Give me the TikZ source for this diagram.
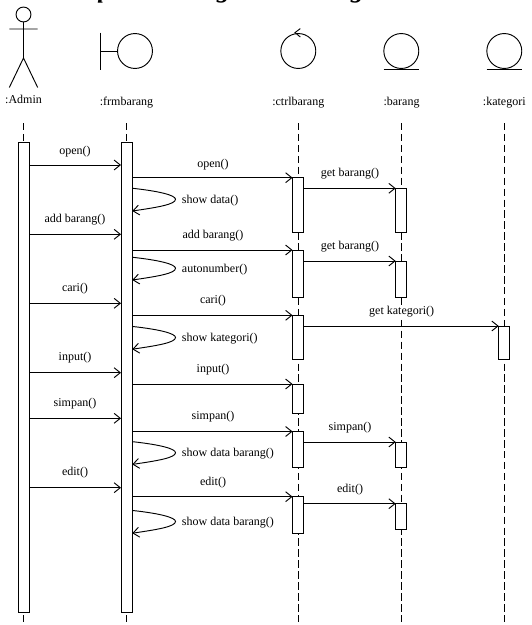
\documentclass[tikz,border=0pt]{standalone}
\usepackage{fontspec}
\setmainfont{Liberation Serif}
\usetikzlibrary{arrows.meta}
\tikzset{
  x=0.75pt, y=-0.75pt,
  thin line/.style={line width=0.7pt, black},
  lifeline/.style={thin line, dash pattern=on 5.6pt off 2.6pt},
  msg/.style={thin line, -{Straight Barb[length=4.6pt,width=7.4pt,line width=0.7pt]}},
  lbl/.style={font=\fontsize{9}{10}\selectfont, inner sep=0pt, fill=white, text height=7.2pt, text depth=1.9pt},
  actbox/.style={draw=black, line width=0.75pt, fill=white, inner sep=0pt, outer sep=0pt},
  icon/.style={draw=black, line width=0.7pt, circle, inner sep=0pt, outer sep=0pt, minimum size=26.2pt}
}
\newcommand{\actbar}[4]{\node[actbox, minimum width=8.25pt, minimum height={(#4-#3)*0.75pt}] (#1) at ({#2},{(#3+#4)/2}) {};}
% \sendmsg{from}{to}{y}{label}{label x}{label y}
\newcommand{\sendmsg}[6]{%
  \draw[msg] ([xshift=0.6pt]#1.east |- 0,#3) -- (#2.west |- 0,#3);
  \node[lbl] at (#5,#6) {#4};}
% \selfmsg{bar}{y}{name}{label}{label y}
\newcommand{\selfmsg}[5]{%
  \coordinate (#3a) at ([xshift=0.6pt]#1.east |- 0,#2);
  \coordinate (#3b) at ([xshift=0.2pt]#1.east |- 0,{#2+22.7});
  \draw[msg] (#3a) .. controls (160,{#2+3}) and (175.5,{#2+7}) .. (175.5,{#2+11})
     .. controls (175.5,{#2+16}) and (158,{#2+19}) .. (#3b);
  \node[lbl, anchor=west] at (181.7,#5) {#4};}
\begin{document}
\begin{tikzpicture}
\useasboundingbox (0,0) rectangle (532,625);
\begin{scope}
\clip (0,0) rectangle (532,625);
\node[font=\fontsize{20}{22}\selectfont\bfseries\itshape, inner sep=0pt, anchor=base west] (title) at (65,-2.5) {Sequence Diagram Barang};
\end{scope}

% actor
\node[icon, minimum size=11.2pt] (head) at (23.5,14.5) {};
\coordinate (hip) at (23.5,58);
\coordinate (armL) at (9.3,29);
\coordinate (armR) at (37.7,29);
\coordinate (footL) at (9.3,87.5);
\coordinate (footR) at (37.7,87.5);
\draw[thin line] (head.south) -- (hip) (armL) -- (armR) (footL) -- (hip) -- (footR);
\node[lbl] (admin) at (23.5,100) {:Admin};

% boundary
\node[icon] (bcirc) at (135,51) {};
\coordinate (bt) at (100.7,32.5);
\coordinate (bb) at (100.7,69.5);
\coordinate (bm) at (100.7,51);
\draw[thin line] (bt) -- (bb) (bm) -- (bcirc.west);
\node[lbl] (frm) at (126.5,101.5) {:frmbarang};

% control
\node[icon] (ccirc) at (298.3,51) {};
\coordinate (cA) at (300.3,28.6);
\coordinate (cB) at (300.3,37);
\draw[thin line] (cA) -- (295,32.6) -- (cB);
\node[lbl] (ctrl) at (298.3,101.5) {:ctrlbarang};

% entities
\node[icon] (ecirc1) at (401.3,51) {};
\coordinate (e1L) at (383.7,69);
\coordinate (e1R) at (419,69);
\draw[thin line] (e1L) -- (e1R);
\node[lbl] (barang) at (401.5,101.5) {:barang};
\node[icon] (ecirc2) at (504.3,51) {};
\coordinate (e2L) at (486.7,69);
\coordinate (e2R) at (522,69);
\draw[thin line] (e2L) -- (e2R);
\node[lbl] (kategori) at (504.3,101.5) {:kategori};

% lifelines
\foreach \n/\x in {a/23.5,b/126.5,c/298.3,d/401.2,e/504.3}{
  \coordinate (\n top) at (\x,123);
  \coordinate (\n bot) at (\x,625);
  \draw[lifeline] (\n top) -- (\n bot);
}

% activation bars
\actbar{adm}{23.5}{142}{612}
\actbar{frmb}{126.5}{142}{612}
\actbar{c1}{298}{177.7}{232}
\actbar{c2}{298}{250}{297}
\actbar{c3}{298}{315.3}{359}
\actbar{c4}{298}{384}{413.3}
\actbar{c5}{298}{431.3}{467.7}
\actbar{c6}{298}{496.5}{533}
\actbar{d1}{401.2}{188.3}{232}
\actbar{d2}{401.2}{261}{297}
\actbar{d3}{401.2}{442}{467.7}
\actbar{d4}{401.2}{503.7}{529.3}
\actbar{e1}{504.2}{326}{359}

% admin -> form
\sendmsg{adm}{frmb}{165}{open()}{75}{150.5}
\sendmsg{adm}{frmb}{234.3}{add barang()}{75}{219}
\sendmsg{adm}{frmb}{303.3}{cari()}{75}{288}
\sendmsg{adm}{frmb}{372.7}{input()}{75}{357}
\sendmsg{adm}{frmb}{418.3}{simpan()}{75}{403}
\sendmsg{adm}{frmb}{487.7}{edit()}{75}{472}

% form -> control
\sendmsg{frmb}{c1}{177.7}{open()}{213}{163.5}
\sendmsg{frmb}{c2}{250}{add barang()}{213}{235}
\sendmsg{frmb}{c3}{315.3}{cari()}{213}{300}
\sendmsg{frmb}{c4}{384}{input()}{213}{369}
\sendmsg{frmb}{c5}{431.5}{simpan()}{213}{416}
\sendmsg{frmb}{c6}{496.7}{edit()}{213}{482}

% self messages
\selfmsg{frmb}{188.3}{s1}{show data()}{200}
\selfmsg{frmb}{257.3}{s2}{autonumber()}{269}
\selfmsg{frmb}{326.5}{s3}{show kategori()}{338}
\selfmsg{frmb}{441.7}{s4}{show data barang()}{453}
\selfmsg{frmb}{510.5}{s5}{show data barang()}{522}

% control -> entities
\sendmsg{c1}{d1}{188.3}{get barang()}{350}{173.3}
\sendmsg{c2}{d2}{261}{get barang()}{350}{246}
\sendmsg{c3}{e1}{326}{get kategori()}{401.7}{311}
\sendmsg{c5}{d3}{442}{simpan()}{350}{427.3}
\sendmsg{c6}{d4}{503.7}{edit()}{350}{489.3}
\end{tikzpicture}
\end{document}
